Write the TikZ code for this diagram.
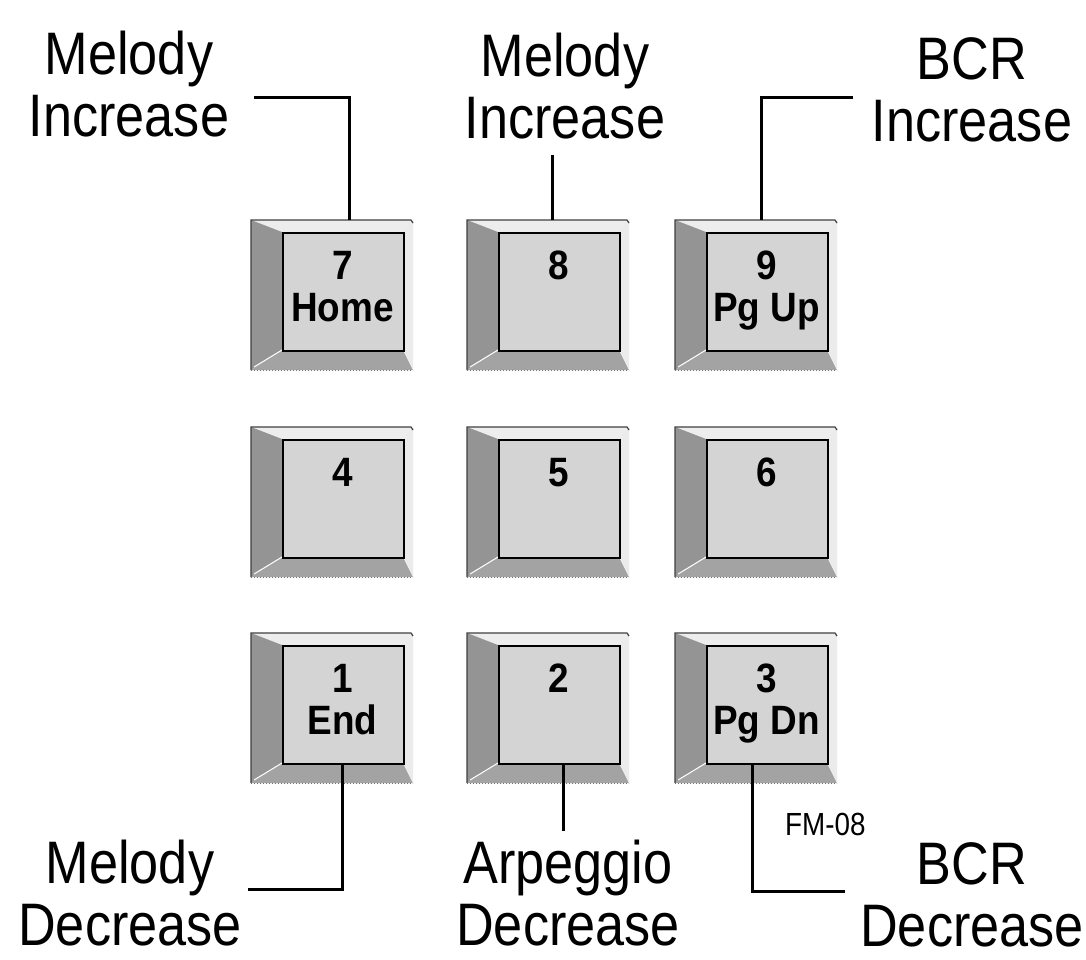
\documentclass[tikz,border=0pt]{standalone}
\usepackage{fontspec}
\setmainfont{Liberation Sans}
\newfontfamily\labfont[FakeStretch=0.87]{Liberation Sans}
\newfontfamily\keyfont[FakeStretch=0.9]{Liberation Sans}
\definecolor{bevtop}{gray}{0.93}
\definecolor{bevleft}{gray}{0.58}
\definecolor{bevbot}{gray}{0.64}
\definecolor{bevright}{gray}{0.92}
\definecolor{facecol}{gray}{0.83}
\tikzset{
  keyface/.style={draw=black, line width=1.6pt, fill=facecol, minimum width=121pt, minimum height=118pt, inner sep=0pt},
  keytext/.style={font=\keyfont\bfseries\fontsize{41}{42}\selectfont, align=center, inner sep=0pt},
  lab/.style={font=\labfont\fontsize{60}{62}\selectfont, align=center, inner sep=0pt},
  conn/.style={draw=black, line width=3pt},
  outeredge/.style={draw=black!75, line width=1.2pt},
}
\newcommand\keycap[4]{%
  \begin{scope}[shift={(#2,#3)}]
    \fill[bevtop] (0,0)--(162,0)--(152,12)--(31,12)--cycle;
    \fill[bevleft] (0,0)--(31,12)--(31,130)--(0,150)--cycle;
    \fill[bevbot] (0,150)--(31,130)--(152,130)--(162,150)--cycle;
    \fill[bevright] (162,0)--(152,12)--(152,130)--(162,150)--cycle;
    \draw[white, line width=1pt] (3,147)--(31,130);
    \draw[outeredge] (0,150)--(0,0)--(160,0)--(162,3);
    \draw[black!55, line width=1pt, dotted] (0,150)--(162,150);
    \node[keyface, anchor=north west] (#1) at (31,12) {};
    \node[keytext, anchor=north] (#1t) at (91.5,31) {#4};
  \end{scope}}
\begin{document}
\begin{tikzpicture}[x=1pt,y=-1pt]
\useasboundingbox (0,0) rectangle (1086,959);
\fill[white] (0,0) rectangle (1086,959);
% keys
\keycap{k7}{251}{220}{7\\Home}
\keycap{k8}{467}{220}{8}
\keycap{k9}{675}{220}{9\\Pg Up}
\keycap{k4}{251}{427}{4}
\keycap{k5}{467}{427}{5}
\keycap{k6}{675}{427}{6}
\keycap{k1}{251}{633}{1\\End}
\keycap{k2}{467}{633}{2}
\keycap{k3}{675}{633}{3\\Pg Dn}
% labels
\node[lab, anchor=north] (l7) at (129,31) {Melody\\Increase};
\node[lab, anchor=north] (l8) at (565,33) {Melody\\Increase};
\node[lab, anchor=north] (l9) at (972,37) {BCR\\Increase};
\node[lab, anchor=north] (l1) at (130,840) {Melody\\Decrease};
\node[lab, anchor=north] (l2) at (568,840) {Arpeggio\\Decrease};
\node[lab, anchor=north] (l3) at (972,842) {BCR\\Decrease};
\node[font=\labfont\fontsize{32}{34}\selectfont, inner sep=0pt, anchor=base west] (fm) at (785,835) {FM-08};
% connector points
\coordinate (c7a) at (254,97);
\coordinate (c7b) at (349,220);
\coordinate (c8a) at (552,155);
\coordinate (c8b) at (552,220);
\coordinate (c9a) at (853,97);
\coordinate (c9b) at (761,220);
\coordinate (c1a) at (342,763);
\coordinate (c1b) at (248,889);
\coordinate (c2a) at (563,763);
\coordinate (c2b) at (563,831);
\coordinate (c3a) at (752,763);
\coordinate (c3b) at (845,891);
% connectors
\draw[conn] (c7a) -| (c7b);
\draw[conn] (c8a) -- (c8b);
\draw[conn] (c9a) -| (c9b);
\draw[conn] (c1a) |- (c1b);
\draw[conn] (c2a) -- (c2b);
\draw[conn] (c3a) |- (c3b);
\end{tikzpicture}
\end{document}
